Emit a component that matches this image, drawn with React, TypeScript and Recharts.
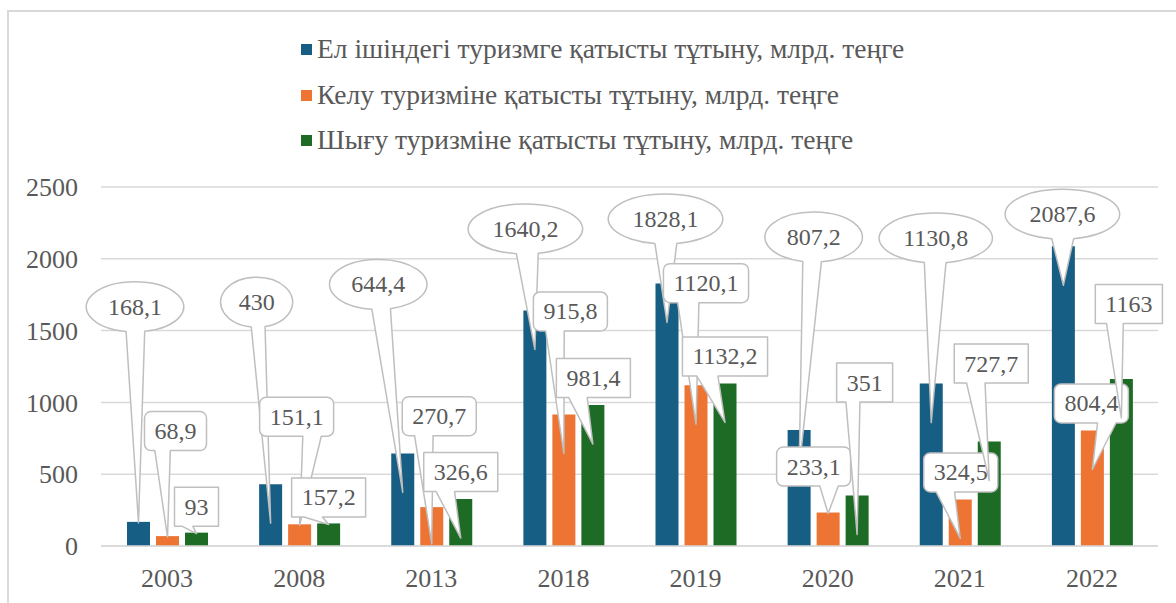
import React from "react";
import { Bar, BarChart, CartesianGrid, XAxis, YAxis } from "recharts";

const years = ["2003", "2008", "2013", "2018", "2019", "2020", "2021", "2022"];
const domestic = [168.1, 430, 644.4, 1640.2, 1828.1, 807.2, 1130.8, 2087.6];
const inbound = [68.9, 151.1, 270.7, 915.8, 1120.1, 233.1, 324.5, 804.4];
const outbound = [93, 157.2, 326.6, 981.4, 1132.2, 351, 727.7, 1163];
const yTicks = [0, 500, 1000, 1500, 2000, 2500];
const seriesNames = [
  "Ел ішіндегі туризмге қатысты тұтыну, млрд. теңге",
  "Келу туризміне қатысты тұтыну, млрд. теңге",
  "Шығу туризміне қатысты тұтыну, млрд. теңге",
];

// callout placement: [dx, dy] of the label centre from the bar's top centre (px)
const domesticCallouts = [[-3.5, -215], [-14, -182], [-24.5, -169], [-9.5, -81.5], [-1.5, -64.5], [14.5, -193], [4.5, -145.5], [-1, -32]];
const inboundCallouts = [[8, -105], [-3, -107.5], [7.5, -91], [6.5, -103], [10, -102], [-14.5, -46], [0.5, -27], [-1, -27]];
const outboundCallouts = [[0, -26], [0, -26], [0, -27], [0.5, -27], [0, -27], [7.5, -113], [2, -78], [7.5, -75]];

const data = years.map((year, i) => ({
  year,
  domestic: domestic[i],
  inbound: inbound[i],
  outbound: outbound[i],
}));

const FONT = "'Liberation Serif', 'Times New Roman', serif";
const TEXT = "#595959";
const LINE = "#D9D9D9";
const BORDER = "#BFBFBF";
const COLORS = ["#175E84", "#ED7433", "#1D6B25"];

let ctx: CanvasRenderingContext2D | null = null;
function textWidth(s: string, size: number) {
  if (!ctx) ctx = document.createElement("canvas").getContext("2d");
  if (!ctx) return s.length * size * 0.5;
  ctx.font = `${size}px ${FONT}`;
  return ctx.measureText(s).width;
}

const fmt = (v: number) => String(v).replace(".", ",");

function rectPath(l: number, t: number, w: number, h: number, r: number, tx: number, ty: number) {
  const cx = l + w / 2;
  const cy = t + h / 2;
  const dxp = tx - cx;
  const dyp = ty - cy;
  const inside = tx > l && tx < l + w && ty > t && ty < t + h;
  let side = "";
  if (!inside) {
    if (Math.abs(dyp) >= Math.abs((dxp * h) / w)) side = dyp > 0 ? "bottom" : "top";
    else side = dxp > 0 ? "right" : "left";
  }
  const xa = l + (w * (dxp > 0 ? 7 : 2)) / 12;
  const xb = l + (w * (dxp > 0 ? 10 : 5)) / 12;
  const ya = t + (h * (dyp > 0 ? 7 : 2)) / 12;
  const yb = t + (h * (dyp > 0 ? 10 : 5)) / 12;
  const arc = (x: number, y: number) => (r > 0 ? `A${r},${r} 0 0 1 ${x},${y}` : "");
  let d = `M${l + r},${t}`;
  if (side === "top") d += `L${xa},${t}L${tx},${ty}L${xb},${t}`;
  d += `L${l + w - r},${t}` + arc(l + w, t + r);
  if (side === "right") d += `L${l + w},${ya}L${tx},${ty}L${l + w},${yb}`;
  d += `L${l + w},${t + h - r}` + arc(l + w - r, t + h);
  if (side === "bottom") d += `L${xb},${t + h}L${tx},${ty}L${xa},${t + h}`;
  d += `L${l + r},${t + h}` + arc(l, t + h - r);
  if (side === "left") d += `L${l},${yb}L${tx},${ty}L${l},${ya}`;
  d += `L${l},${t + r}` + arc(l + r, t) + "Z";
  return d;
}

function ellipsePath(cx: number, cy: number, rx: number, ry: number, tx: number, ty: number) {
  const ang = Math.atan2((ty - cy) / ry, (tx - cx) / rx);
  const d11 = (11 * Math.PI) / 180;
  const a = ang + d11;
  const b = ang - d11;
  const p = (t: number) => `${cx + rx * Math.cos(t)},${cy + ry * Math.sin(t)}`;
  return `M${p(a)}A${rx},${ry} 0 1 1 ${p(b)}L${tx},${ty}Z`;
}

function makeCallout(kind: "ellipse" | "round" | "rect", offsets: number[][]) {
  return (props: any) => {
    const vb = props.viewBox || {};
    const x = props.x ?? vb.x;
    const y = props.y ?? vb.y;
    const width = props.width ?? vb.width;
    const height = props.height ?? vb.height;
    const index = props.index ?? 0;
    const value = props.value;
    if (x == null || value == null) return null;
    const [dx, dy] = offsets[index];
    const barX = x + width / 2;
    const tipOff = height >= 35 ? Math.min(39, height - 2) : 1;
    const tx = barX;
    const ty = y + tipOff;
    const cx = barX + dx;
    const cy = y + dy;
    const label = fmt(value);
    const tw = textWidth(label, 24);
    let d: string;
    if (kind === "ellipse") {
      const rx = ((tw + 15) * Math.SQRT2) / 2;
      const ry = 25;
      d = ellipsePath(cx, cy, rx, ry, tx, ty);
    } else {
      const w = tw + 20;
      const h = 39;
      d = rectPath(cx - w / 2, cy - h / 2, w, h, kind === "round" ? 6.5 : 0, tx, ty);
    }
    return (
      <g>
        <path d={d} fill="#ffffff" stroke={BORDER} strokeWidth={1.5} strokeLinejoin="round" />
        <text
          x={cx}
          y={cy}
          textAnchor="middle"
          dominantBaseline="central"
          fill={TEXT}
          fontSize={24}
          fontFamily={FONT}
        >
          {label}
        </text>
      </g>
    );
  };
}

const keys = ["domestic", "inbound", "outbound"];
const callouts = [
  makeCallout("ellipse", domesticCallouts),
  makeCallout("round", inboundCallouts),
  makeCallout("rect", outboundCallouts),
];

const legendTops = [49, 95, 140];

export default function App() {
  return (
    <div style={{ position: "absolute", left: 0, top: 0, width: 1176, height: 603, background: "#fff", overflow: "hidden" }}>
      <div
        style={{
          position: "absolute",
          left: 7,
          top: 10,
          width: 1200,
          height: 620,
          borderLeft: `2px solid ${LINE}`,
          borderTop: `2px solid ${LINE}`,
        }}
      />
      {seriesNames.map((name, i) => (
        <div
          key={name}
          style={{
            position: "absolute",
            left: 301,
            top: legendTops[i] - 16,
            height: 32,
            display: "flex",
            alignItems: "center",
            fontFamily: FONT,
            fontSize: 27.5,
            color: TEXT,
            whiteSpace: "nowrap",
          }}
        >
          <span style={{ display: "inline-block", width: 11, height: 11, background: COLORS[i], marginRight: 5 }} />
          <span>{name}</span>
        </div>
      ))}
      <BarChart
        width={1176}
        height={603}
        data={data}
        margin={{ top: 187, right: 18, bottom: 0, left: 0 }}
        barSize={23}
        barGap={6}
        style={{ position: "absolute", left: 0, top: 0 }}
      >
        <CartesianGrid vertical={false} stroke={LINE} strokeWidth={1.5} />
        <XAxis
          dataKey="year"
          height={57}
          tickLine={false}
          tickSize={0}
          tickMargin={23}
          axisLine={{ stroke: LINE, strokeWidth: 1.5 }}
          tick={{ fill: TEXT, fontSize: 26, fontFamily: FONT }}
        />
        <XAxis dataKey="year" xAxisId="labels" hide />
        <YAxis
          width={101}
          domain={[0, 2500]}
          ticks={yTicks}
          tickLine={false}
          axisLine={false}
          tickSize={0}
          tickMargin={23}
          tick={{ fill: TEXT, fontSize: 26, fontFamily: FONT }}
        />
        {keys.map((k, i) => (
          <Bar key={k} dataKey={k} name={seriesNames[i]} fill={COLORS[i]} isAnimationActive={false} />
        ))}
        {keys.map((k, i) => (
          <Bar
            key={"lab-" + k}
            dataKey={k}
            xAxisId="labels"
            fill="transparent"
            legendType="none"
            isAnimationActive={false}
            label={callouts[i]}
          />
        ))}
      </BarChart>
    </div>
  );
}
